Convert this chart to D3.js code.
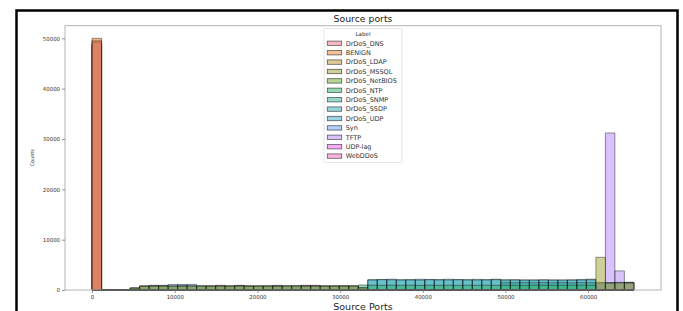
<!DOCTYPE html>
<html>
<head>
<meta charset="utf-8">
<script src="https://cdn.jsdelivr.net/npm/d3@7"></script>
<style>
  html, body { margin: 0; padding: 0; background: #fff; }
  svg { display: block; font-family: "DejaVu Sans", sans-serif; }
</style>
</head>
<body>
<svg id="chart" width="683" height="311"></svg>
<script>
// histogram of source ports, 57 bins over 0..65535, one series per label
const labels = ["DrDoS_DNS", "BENIGN", "DrDoS_LDAP", "DrDoS_MSSQL", "DrDoS_NetBIOS",
  "DrDoS_NTP", "DrDoS_SNMP", "DrDoS_SSDP", "DrDoS_UDP", "Syn", "TFTP", "UDP-lag", "WebDDoS"];
const binCount = 57;
const portMax = 65535;
const xTicks = [0, 10000, 20000, 30000, 40000, 50000, 60000];
const yTicks = [0, 10000, 20000, 30000, 40000, 50000];

const dnsCounts = [
  49300, 0, 0, 0, 0, 0, 0, 0, 0, 0, 0, 0, 0, 0, 0, 0, 0, 0, 0,
  0, 0, 0, 0, 0, 0, 0, 0, 0, 0, 0, 0, 0, 0, 0, 0, 0, 0, 0,
  0, 0, 0, 0, 0, 0, 0, 0, 0, 0, 0, 0, 0, 0, 0, 0, 0, 0, 0];
const benignCounts = [
  50000, 0, 0, 0, 0, 0, 0, 0, 0, 0, 0, 0, 0, 0, 0, 0, 0, 0, 0,
  0, 0, 0, 0, 0, 0, 0, 0, 0, 0, 0, 0, 0, 0, 0, 0, 0, 0, 0,
  0, 0, 0, 0, 0, 0, 0, 0, 0, 0, 0, 0, 0, 0, 0, 0, 0, 0, 0];
const ldapCounts = [
  49600, 0, 0, 0, 0, 0, 0, 0, 0, 0, 0, 0, 0, 0, 0, 0, 0, 0, 0,
  0, 0, 0, 0, 0, 0, 0, 0, 0, 0, 0, 0, 0, 0, 0, 0, 0, 0, 0,
  0, 0, 0, 0, 0, 0, 0, 0, 0, 0, 0, 0, 0, 0, 0, 0, 0, 0, 0];
const mssqlCounts = [
  0, 0, 0, 0, 380, 770, 790, 800, 780, 760, 810, 790, 770, 800, 780, 810, 760, 790, 780,
  770, 800, 820, 780, 790, 770, 800, 780, 790, 420, 0, 0, 0, 0, 0, 0, 0, 0, 0,
  0, 0, 0, 0, 0, 0, 0, 0, 0, 0, 0, 0, 0, 0, 0, 6500, 1350, 1400, 1380];
const netbiosCounts = [
  48900, 0, 0, 0, 0, 0, 0, 0, 0, 0, 0, 0, 0, 0, 0, 0, 0, 0, 0,
  0, 0, 0, 0, 0, 0, 0, 0, 0, 0, 0, 0, 0, 0, 0, 0, 0, 0, 0,
  0, 0, 0, 0, 0, 0, 0, 0, 0, 0, 0, 0, 0, 0, 0, 0, 0, 0, 0];
const ntpCounts = [
  49000, 0, 0, 0, 390, 780, 770, 790, 760, 780, 770, 790, 780, 770, 760, 790, 780, 770, 790,
  760, 780, 790, 770, 780, 790, 770, 800, 780, 1000, 950, 930, 960, 940, 950, 920, 960, 940, 950,
  930, 950, 940, 960, 930, 950, 940, 920, 960, 950, 930, 940, 950, 960, 940, 0, 0, 0, 0];
const snmpCounts = [
  48500, 0, 0, 0, 0, 0, 0, 0, 0, 0, 0, 0, 0, 0, 0, 0, 0, 0, 0,
  0, 0, 0, 0, 0, 0, 0, 0, 0, 0, 0, 0, 0, 0, 0, 0, 0, 0, 0,
  0, 0, 0, 0, 0, 1450, 1420, 1460, 1440, 1470, 1430, 1450, 1420, 1460, 1440, 1500, 1480, 1520, 1490];
const ssdpCounts = [
  0, 0, 0, 0, 0, 0, 0, 0, 0, 0, 0, 0, 0, 0, 0, 0, 0, 0, 0,
  0, 0, 0, 0, 0, 0, 0, 0, 0, 0, 1980, 2050, 2020, 1990, 2000, 1970, 2040, 2010, 1990,
  2030, 2000, 1980, 2010, 2050, 1970, 1990, 1960, 1980, 2000, 1970, 1990, 1960, 1980, 2030, 0, 0, 0, 0];
const udpCounts = [
  0, 0, 0, 0, 0, 0, 0, 0, 0, 0, 0, 0, 0, 0, 0, 0, 0, 0, 0,
  0, 0, 0, 0, 0, 0, 0, 0, 0, 0, 2060, 2080, 2150, 2040, 2070, 2130, 2090, 2060, 2140,
  2080, 2050, 2120, 2060, 2150, 2030, 2040, 2010, 1990, 2020, 2000, 1980, 2030, 2100, 2150, 0, 0, 0, 0];
const synCounts = [
  0, 0, 0, 0, 350, 760, 800, 780, 1100, 1080, 1120, 770, 780, 760, 790, 800, 770, 780, 760,
  790, 770, 800, 790, 780, 760, 790, 800, 770, 450, 0, 0, 0, 0, 0, 0, 0, 0, 0,
  0, 0, 0, 0, 0, 0, 0, 0, 0, 0, 0, 0, 0, 0, 0, 0, 0, 0, 0];
const tftpCounts = [
  0, 0, 0, 0, 0, 0, 0, 0, 0, 0, 0, 0, 0, 0, 0, 0, 0, 0, 0,
  0, 0, 0, 0, 0, 0, 0, 0, 0, 0, 0, 0, 0, 0, 0, 0, 0, 0, 0,
  0, 0, 0, 0, 0, 0, 0, 0, 0, 0, 0, 0, 0, 0, 0, 1300, 31200, 3800, 1550];
const udplagCounts = [
  0, 0, 0, 0, 400, 790, 930, 920, 800, 940, 810, 790, 800, 930, 790, 920, 800, 790, 810,
  930, 800, 790, 940, 930, 800, 790, 810, 800, 430, 0, 0, 0, 0, 0, 0, 0, 0, 0,
  0, 0, 0, 0, 0, 0, 0, 0, 0, 0, 0, 0, 0, 0, 0, 1400, 1450, 1420, 1460];
const webddosCounts = [
  120, 0, 0, 0, 0, 0, 0, 0, 0, 0, 0, 0, 0, 0, 0, 0, 0, 0, 0,
  0, 0, 0, 0, 0, 0, 0, 0, 0, 0, 0, 0, 0, 0, 0, 0, 0, 0, 0,
  0, 0, 0, 0, 0, 0, 0, 0, 0, 0, 0, 0, 0, 0, 0, 40, 30, 50, 20];

const series = [dnsCounts, benignCounts, ldapCounts, mssqlCounts, netbiosCounts, ntpCounts,
  snmpCounts, ssdpCounts, udpCounts, synCounts, tftpCounts, udplagCounts, webddosCounts];

// seaborn's husl palette (old husl module)
function huslToHex(h, s, l) {
  const m = [[3.2406, -1.5372, -0.4986], [-0.9689, 1.8758, 0.0415], [0.0557, -0.2040, 1.0570]];
  const refU = 0.19784, refV = 0.46834, kappa = 903.3, eps = 0.008856;
  const hr = h * Math.PI / 180, sinH = Math.sin(hr), cosH = Math.cos(hr);
  const sub1 = Math.pow(l + 16, 3) / 1560896;
  const sub2 = sub1 > eps ? sub1 : l / kappa;
  let maxC = Infinity;
  m.forEach(([m1, m2, m3]) => {
    const top = (0.99915 * m1 + 1.05122 * m2 + 1.14460 * m3) * sub2;
    const rb = 0.86330 * m3 - 0.17266 * m2;
    const lb = 0.12949 * m3 - 0.38848 * m1;
    const bottom = (rb * sinH + lb * cosH) * sub2;
    [0, 1].forEach((t) => {
      const c = l * (top - 1.05122 * t) / (bottom + 0.17266 * sinH * t);
      if (c > 0 && c < maxC) maxC = c;
    });
  });
  const C = maxC / 100 * s;
  const U = cosH * C, V = sinH * C;
  const t = (l + 16) / 116;
  const Y = Math.pow(t, 3) > eps ? Math.pow(t, 3) : (116 * t - 16) / kappa;
  const vu = U / (13 * l) + refU, vv = V / (13 * l) + refV;
  const X = -(9 * Y * vu) / ((vu - 4) * vv - vu * vv);
  const Z = (9 * Y - 15 * vv * Y - vv * X) / (3 * vv);
  const rgb = m.map(([a, b, c]) => {
    let v = a * X + b * Y + c * Z;
    v = v <= 0.0031308 ? 12.92 * v : 1.055 * Math.pow(v, 1 / 2.4) - 0.055;
    return Math.round(Math.max(0, Math.min(1, v)) * 255);
  });
  return d3.rgb(rgb[0], rgb[1], rgb[2]).formatHex();
}
const palette = labels.map((_, i) => {
  const h = ((i / labels.length + 0.01) % 1) * 359;
  return huslToHex(h, 0.9 * 99, 0.65 * 99);
});

const svg = d3.select("#chart");
const plot = { left: 65, right: 661, top: 25.7, bottom: 290 };

// outer black frame of the screenshot
svg.append("rect")
  .attr("x", 16.5).attr("y", 10.5)
  .attr("width", 661).attr("height", 340)
  .attr("fill", "none").attr("stroke", "#000").attr("stroke-width", 2.5);

const binW = portMax / binCount;
const x = d3.scaleLinear()
  .domain([-0.05 * portMax, 1.05 * portMax])
  .range([plot.left, plot.right]);
const y = d3.scaleLinear()
  .domain([0, d3.max(series.flat()) * 1.05])
  .range([plot.bottom, plot.top]);

const bars = svg.append("g");
// seaborn layers hues in reverse, so the first label ends up on top
series.map((vals, i) => ({ vals, color: palette[i] })).reverse().forEach((s) => {
  bars.append("g").selectAll("path")
    .data(s.vals)
    .join("path")
    .attr("d", (v, j) => `M${x(j * binW)},${y(0)}V${y(v)}H${x((j + 1) * binW)}V${y(0)}Z`)
    .attr("fill", s.color)
    .attr("fill-opacity", 0.5)
    .attr("stroke", "#000")
    .attr("stroke-opacity", 0.5)
    .attr("stroke-width", 0.8);
});

// frame
svg.append("rect")
  .attr("x", plot.left).attr("y", plot.top)
  .attr("width", plot.right - plot.left).attr("height", plot.bottom - plot.top)
  .attr("fill", "none").attr("stroke", "#b4b4b4").attr("stroke-width", 1);

const xAxis = svg.append("g")
  .attr("transform", `translate(0, ${plot.bottom})`)
  .call(d3.axisBottom(x).tickValues(xTicks).tickFormat(d3.format("d")).tickSize(3).tickPadding(2));
const yAxis = svg.append("g")
  .attr("transform", `translate(${plot.left}, 0)`)
  .call(d3.axisLeft(y).tickValues(yTicks).tickFormat(d3.format("d")).tickSize(3).tickPadding(2));
[xAxis, yAxis].forEach((a) => {
  a.select(".domain").remove();
  a.selectAll("line").attr("stroke", "#777").attr("stroke-width", 0.8);
  a.selectAll("text")
    .attr("fill", "#333")
    .style("font-size", "5.4px")
    .style("font-family", "DejaVu Sans, sans-serif");
});

svg.append("text")
  .attr("x", (plot.left + plot.right) / 2).attr("y", 22.3)
  .attr("text-anchor", "middle")
  .attr("fill", "#222")
  .style("font-size", "9.3px")
  .text("Source ports");

svg.append("text")
  .attr("x", (plot.left + plot.right) / 2).attr("y", 309.5)
  .attr("text-anchor", "middle")
  .attr("fill", "#222")
  .style("font-size", "9.5px")
  .text("Source Ports");

svg.append("text")
  .attr("transform", `translate(34, ${(plot.top + plot.bottom) / 2}) rotate(-90)`)
  .attr("text-anchor", "middle")
  .attr("fill", "#333")
  .style("font-size", "5px")
  .text("Counts");

// legend
const legend = svg.append("g").attr("transform", "translate(324, 28.5)");
legend.append("rect")
  .attr("width", 78).attr("height", 134).attr("rx", 1.5)
  .attr("fill", "#fff").attr("fill-opacity", 0.85)
  .attr("stroke", "#ddd").attr("stroke-width", 0.8);
legend.append("text")
  .attr("x", 39).attr("y", 7.3)
  .attr("text-anchor", "middle")
  .attr("fill", "#333")
  .style("font-size", "5.6px")
  .text("Label");
const items = legend.selectAll("g.item")
  .data(labels)
  .join("g")
  .attr("class", "item")
  .attr("transform", (d, i) => `translate(0, ${14.8 + i * 9.4})`);
items.append("rect")
  .attr("x", 3.3).attr("y", -2.2)
  .attr("width", 14.4).attr("height", 4.4)
  .attr("fill", (d, i) => palette[i]).attr("fill-opacity", 0.5)
  .attr("stroke", "#000").attr("stroke-opacity", 0.6).attr("stroke-width", 0.8);
items.append("text")
  .attr("x", 21.7).attr("y", 2.2)
  .attr("fill", "#333")
  .style("font-size", "6.5px")
  .text((d) => d);
</script>
</body>
</html>
